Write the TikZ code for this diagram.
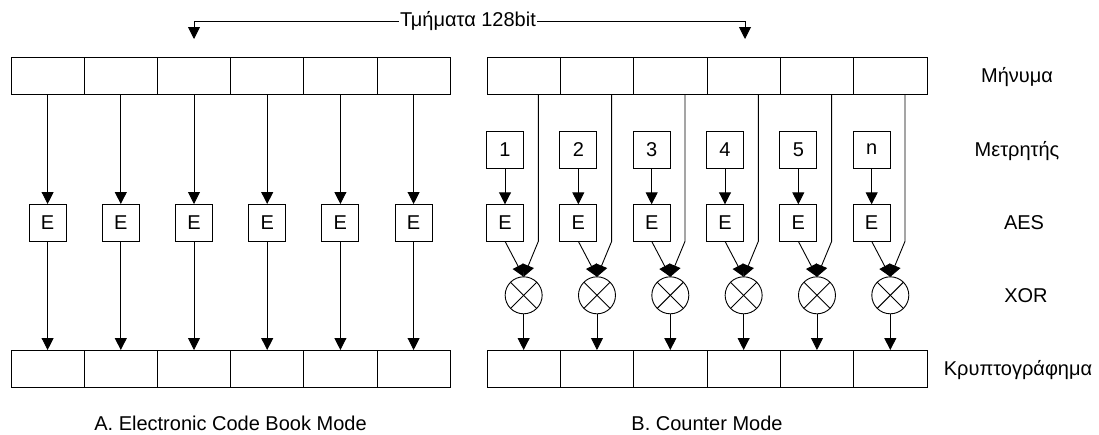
\documentclass[tikz,border=0pt]{standalone}
\usepackage{fontspec}
\setmainfont{Liberation Sans}
\usetikzlibrary{arrows.meta}
\begin{document}
\begin{tikzpicture}[x=1pt,y=-1pt,
  line width=0.9pt,
  every node/.style={font=\fontsize{20}{24}\selectfont},
  cellbox/.style={draw, minimum width=#1, minimum height=37pt, inner sep=0pt, outer sep=0pt},
  opbox/.style={draw, minimum width=37pt, minimum height=37pt, inner sep=0pt, outer sep=0pt},
  xorop/.style={draw, circle, minimum size=37pt, inner sep=0pt, outer sep=0pt},
  arr/.style={-{Triangle[length=12pt,width=12pt]}},
  rowlabel/.style={anchor=base, inner sep=0pt}
]
\useasboundingbox (0,0) rectangle (1099,434);

% ---- heading: block size ----
\node[inner sep=1pt] (seg) at (468,21) {Τμήματα 128bit};
\coordinate (segL) at (194,39);
\coordinate (segR) at (745,39);
\draw[arr] (seg.west) -| (segL);
\draw[arr] (seg.east) -| (segR);

% ---- A. Electronic Code Book mode ----
\foreach \i in {0,...,5} {
  \pgfmathsetmacro{\cx}{47.6+73.2*\i}
  \node[cellbox=73.2pt] (a\i)  at (\cx,75.5)  {};
  \node[opbox]          (ea\i) at (\cx,222.5) {E};
  \node[cellbox=73.2pt] (ac\i) at (\cx,368.5) {};
  \draw[arr] (a\i.south) -- (ea\i.north);
  \draw[arr] (ea\i.south) -- (ac\i.north);
}

% ---- B. Counter mode ----
\foreach \j/\n in {0/1,1/2,2/3,3/4,4/5,5/n} {
  \pgfmathsetmacro{\cx}{523.65+73.33*\j}
  \node[cellbox=73.33pt] (b\j)  at (\cx,75.5)  {};
  \node[opbox] (c\j) at (\cx-18.65,149.5) {\n};
  \node[opbox] (e\j) at (\cx-18.65,222.8) {E};
  \node[xorop] (x\j) at (\cx,295.3) {};
  \draw (x\j.45) -- (x\j.225);
  \draw (x\j.135) -- (x\j.315);
  \node[cellbox=73.33pt] (bc\j) at (\cx,368.5) {};
  \draw[arr] (c\j.south) -- (e\j.north);
  \draw[arr] (e\j.south) -- (x\j.north);
  \draw[arr] ([xshift=14.7pt]b\j.south) -- ([xshift=14.7pt]b\j.south |- e\j.south) -- (x\j.north);
  \draw[arr] (x\j.south) -- (x\j.south |- bc\j.north);
}

% ---- row labels ----
\node[rowlabel] (lmsg) at (1017,82.5)  {Μήνυμα};
\node[rowlabel] (lctr) at (1017,156.5) {Μετρητής};
\node[rowlabel] (laes) at (1024,229.5) {AES};
\node[rowlabel] (lxor) at (1026,302)   {XOR};
\node[rowlabel] (lcip) at (1018,375.5) {Κρυπτογράφημα};

% ---- captions ----
\node[rowlabel] (capA) at (230.5,430) {A. Electronic Code Book Mode};
\node[rowlabel] (capB) at (707,430)   {B. Counter Mode};
\end{tikzpicture}
\end{document}
